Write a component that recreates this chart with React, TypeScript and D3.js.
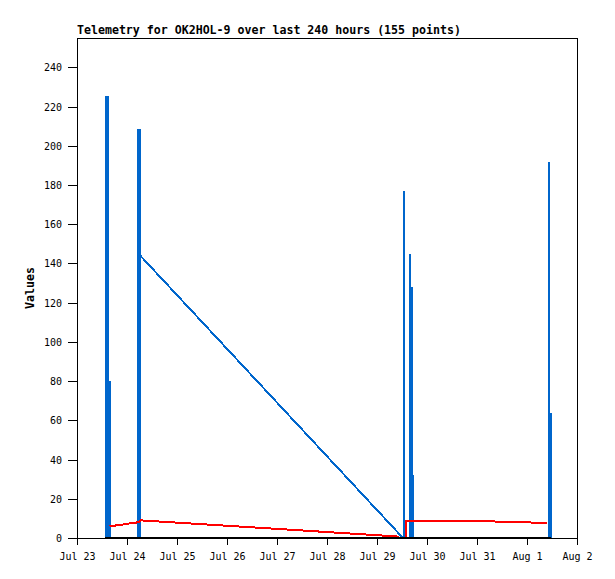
import * as d3 from "d3";
import { useEffect, useRef } from "react";

// Telemetry samples: [hours since Jul 23 00:00 UTC, value]
const blueSeries: [number, number][] = [
  [13.9, 0], [13.9, 225], [14.9, 225], [14.9, 0],
  [15.6, 0], [15.6, 80], [15.7, 0],
  [29.3, 0], [29.3, 208], [30.2, 208], [30.2, 0],
  [30.4, 144],
  [156.5, 0], [157.1, 0], [157.1, 177], [157.1, 0],
  [159.7, 0], [159.7, 145], [159.7, 0],
  [160.6, 0], [160.6, 128], [160.6, 0],
  [161.4, 0], [161.4, 32], [161.4, 0],
  [226.5, 0], [226.5, 192], [226.5, 0],
  [227.3, 0], [227.3, 64],
];

const redSeries: [number, number][] = [
  [15.6, 6.0], [20.2, 6.6], [24.5, 7.3], [28.6, 7.9], [29.8, 8.0],
  [30.5, 9.0], [153.6, 0.8], [154.8, 0], [157.8, 0], [158.1, 8.9],
  [188.6, 8.7], [209.8, 8.2], [225.8, 7.6],
];

const blackSeries: [number, number][] = [
  [13.4, 0], [30.5, 0], [156.5, 0], [227.5, 0],
];

const seriesColors = ["#0066cc", "#ff0000", "#000000"];
const yTicks = d3.range(0, 241, 20);
const startDate = new Date(Date.UTC(2024, 6, 23));
const endDate = new Date(Date.UTC(2024, 7, 2));
const titleText = "Telemetry for OK2HOL-9 over last 240 hours (155 points)";
const yLabel = "Values";

export default function App() {
  const svgRef = useRef<SVGSVGElement>(null);

  useEffect(() => {
    if (!svgRef.current) return;
    const svg = d3.select(svgRef.current);
    svg.selectAll("*").remove();

    const margin = { top: 38, right: 38, bottom: 41, left: 77 };
    const width = 615 - margin.left - margin.right;
    const height = 579 - margin.top - margin.bottom;

    const x = d3.scaleUtc().domain([startDate, endDate]).range([0, width]);
    const y = d3.scaleLinear().domain([0, 255]).range([height, 0]);
    const toDate = (h: number) => new Date(startDate.getTime() + h * 3600e3);

    const g = svg
      .append("g")
      .attr("transform", `translate(${margin.left},${margin.top})`);

    // Data lines (aliased, like the original png)
    const line = d3
      .line<[number, number]>()
      .x((d) => x(toDate(d[0])))
      .y((d) => y(d[1]));

    [blueSeries, redSeries, blackSeries].forEach((s, i) => {
      g.append("path")
        .datum(s)
        .attr("fill", "none")
        .attr("stroke", seriesColors[i])
        .attr("stroke-width", 2)
        .attr("shape-rendering", "crispEdges")
        .attr("d", line);
    });

    // Border
    g.append("rect")
      .attr("x", 0.5)
      .attr("y", 0.5)
      .attr("width", width)
      .attr("height", height)
      .attr("fill", "none")
      .attr("stroke", "#000")
      .attr("stroke-width", 1)
      .attr("shape-rendering", "crispEdges");

    // Y axis
    const yAxis = g.append("g");
    yAxis
      .selectAll("line")
      .data(yTicks)
      .enter()
      .append("line")
      .attr("x1", -9)
      .attr("x2", 0)
      .attr("y1", (d) => Math.round(y(d)) + 0.5)
      .attr("y2", (d) => Math.round(y(d)) + 0.5)
      .attr("stroke", "#000")
      .attr("shape-rendering", "crispEdges");
    yAxis
      .selectAll("text")
      .data(yTicks)
      .enter()
      .append("text")
      .attr("x", -15)
      .attr("y", (d) => y(d) + 4)
      .attr("text-anchor", "end")
      .style("font-family", "DejaVu Sans Mono")
      .style("font-size", "10px")
      .text((d) => d);

    // X axis
    const days = d3.utcDay.range(startDate, d3.utcDay.offset(endDate, 1));
    const fmt = d3.utcFormat("%b %-d");
    const xAxis = g.append("g").attr("transform", `translate(0,${height})`);
    xAxis
      .selectAll("line")
      .data(days)
      .enter()
      .append("line")
      .attr("x1", (d) => Math.round(x(d)) + 0.5)
      .attr("x2", (d) => Math.round(x(d)) + 0.5)
      .attr("y1", 0)
      .attr("y2", 7)
      .attr("stroke", "#000")
      .attr("shape-rendering", "crispEdges");
    xAxis
      .selectAll("text")
      .data(days)
      .enter()
      .append("text")
      .attr("x", (d) => x(d) + 0.5)
      .attr("y", 22)
      .attr("text-anchor", "middle")
      .style("font-family", "DejaVu Sans Mono")
      .style("font-size", "10px")
      .text((d) => fmt(d));

    // Title
    svg
      .append("text")
      .attr("x", margin.left)
      .attr("y", 34)
      .style("font-family", "DejaVu Sans Mono")
      .style("font-weight", "bold")
      .style("font-size", "11.6px")
      .text(titleText);

    // Y label
    svg
      .append("text")
      .attr("transform", `translate(34,${margin.top + height / 2}) rotate(-90)`)
      .attr("text-anchor", "middle")
      .style("font-family", "DejaVu Sans Mono")
      .style("font-weight", "bold")
      .style("font-size", "11.6px")
      .text(yLabel);
  }, []);

  return (
    <svg
      ref={svgRef}
      width={615}
      height={579}
      style={{ position: "absolute", left: 0, top: 0, background: "#fff" }}
    />
  );
}
